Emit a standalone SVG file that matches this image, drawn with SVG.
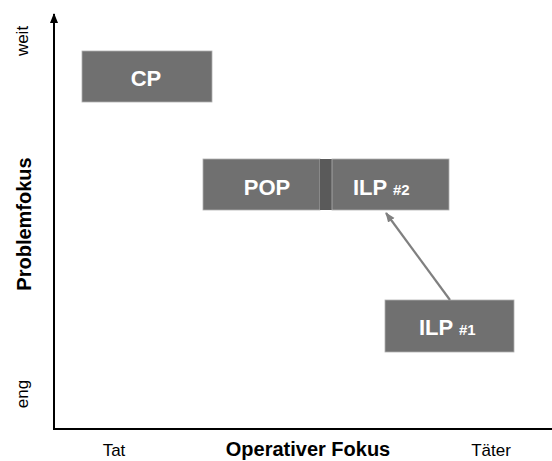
<svg xmlns="http://www.w3.org/2000/svg" width="552" height="461" viewBox="0 0 552 461">
<style>
.box{fill:#707070;stroke:#b0b0b0;stroke-width:0.8}
.bt{font-family:"Liberation Sans",Arial,sans-serif;font-weight:bold;fill:#ffffff;font-size:22px}
.sm{font-size:15px}
.lab{font-family:"Liberation Sans",Arial,sans-serif;fill:#000;font-size:17px}
.tit{font-family:"Liberation Sans",Arial,sans-serif;fill:#000;font-size:20px;font-weight:bold}
</style>
<defs>
<marker id="ah" markerWidth="10" markerHeight="10" refX="9" refY="5" orient="auto" markerUnits="userSpaceOnUse">
<path d="M0,1 L10,5 L0,9 z" fill="#000"/>
</marker>
<marker id="ag" markerWidth="10" markerHeight="10" refX="9" refY="5" orient="auto" markerUnits="userSpaceOnUse">
<path d="M0,1 L10,5 L0,9 z" fill="#808080"/>
</marker>
</defs>
<g id="axes">
<line x1="54" y1="429" x2="54" y2="14" stroke="#000" stroke-width="2" marker-end="url(#ah)"/>
<line x1="53" y1="429" x2="552" y2="429" stroke="#000" stroke-width="2"/>
</g>
<g id="labels">
<text class="lab" transform="translate(28,41) rotate(-90)" text-anchor="middle">weit</text>
<text class="lab" transform="translate(28,394) rotate(-90)" text-anchor="middle">eng</text>
<text class="tit" transform="translate(31,224) rotate(-90)" text-anchor="middle">Problemfokus</text>
<text class="lab" x="114" y="456" text-anchor="middle">Tat</text>
<text class="tit" x="308" y="456" text-anchor="middle">Operativer Fokus</text>
<text class="lab" x="491" y="456" text-anchor="middle">Täter</text>
</g>
<g id="CP">
<rect class="box" x="82" y="51" width="130" height="51"/>
<text class="bt" x="146" y="86" text-anchor="middle">CP</text>
</g>
<g id="POP">
<rect class="box" x="203" y="159" width="117" height="51"/>
<text class="bt" x="267" y="195" text-anchor="middle">POP</text>
</g>
<g id="divider">
<rect x="320" y="159" width="12" height="51" fill="#5a5a5a"/>
</g>
<g id="ILP2">
<rect class="box" x="332" y="159" width="117" height="51"/>
<text class="bt" x="353" y="195">ILP <tspan class="sm">#2</tspan></text>
</g>
<g id="ILP1">
<rect class="box" x="385" y="300" width="129" height="52"/>
<text class="bt" x="419" y="335">ILP <tspan class="sm">#1</tspan></text>
</g>
<g id="connectors">
<line x1="450" y1="300" x2="386" y2="213" stroke="#808080" stroke-width="2.2" marker-end="url(#ag)"/>
</g>
</svg>
